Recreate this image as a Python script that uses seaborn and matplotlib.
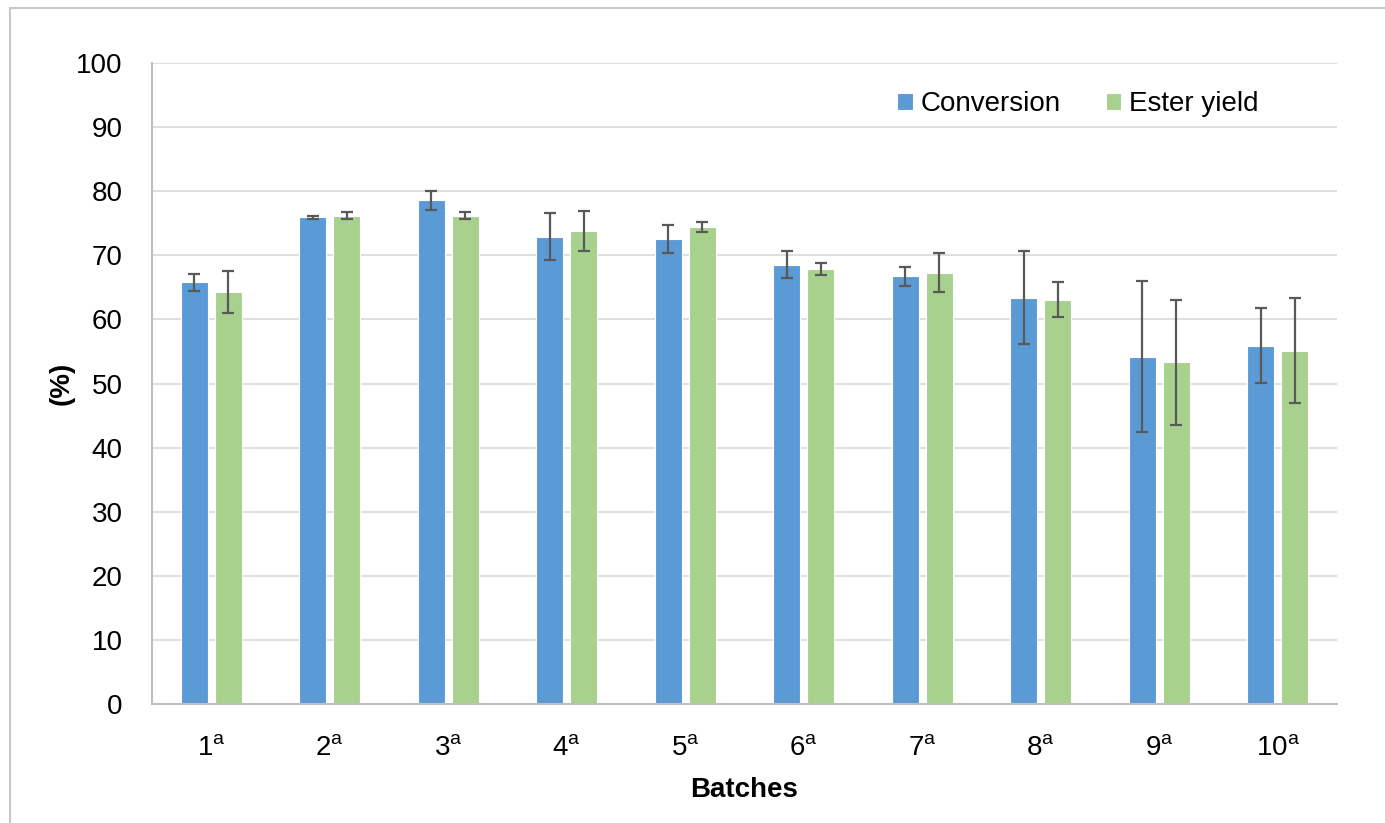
import numpy as np
import pandas as pd
import matplotlib
matplotlib.use('Agg')
import matplotlib.pyplot as plt
from matplotlib.lines import Line2D
import seaborn as sns

# ─── DATA ─────────────────────────────────────────────────────────────────────
batches = [str(i) for i in range(1, 11)]
conversion = [65.8, 75.9, 78.6, 72.9, 72.6, 68.5, 66.7, 63.4, 54.2, 55.9]
conversion_err = [1.35, 0.3, 1.5, 3.7, 2.2, 2.1, 1.5, 7.2, 11.8, 5.85]
ester_yield = [64.3, 76.2, 76.2, 73.8, 74.4, 67.9, 67.3, 63.1, 53.3, 55.1]
ester_err = [3.3, 0.6, 0.6, 3.1, 0.75, 0.9, 3.1, 2.7, 9.8, 8.2]
series = ['Conversion', 'Ester yield']

# ─── STYLE ────────────────────────────────────────────────────────────────────
BLUE = '#5B9BD5'
GREEN = '#A9D18E'
ERR = '#595959'
GRID = '#D9D9D9'

sns.set_theme(style='white')
plt.rcParams['font.family'] = ['Liberation Sans', 'DejaVu Sans']
plt.rcParams['mathtext.default'] = 'regular'
plt.rcParams['text.color'] = 'black'
plt.rcParams['axes.labelcolor'] = 'black'

df = pd.DataFrame({
    'batch': batches * 2,
    'value': conversion + ester_yield,
    'err': conversion_err + ester_err,
    'series': [series[0]] * len(batches) + [series[1]] * len(batches),
})

fig = plt.figure(figsize=(13.85, 8.23), dpi=100)
ax = fig.add_axes([152 / 1385, 1 - 704 / 823, (1337 - 152) / 1385, (704 - 63) / 823])

sns.barplot(data=df, x='batch', y='value', hue='series', order=batches,
            hue_order=series, palette=[BLUE, GREEN], errorbar=None,
            width=0.574, gap=0.2, edgecolor='white', linewidth=0.8,
            saturation=1, ax=ax, zorder=2)

# error bars at bar centres
for cont, s in zip(ax.containers, series):
    sub = df[df['series'] == s].set_index('batch').loc[batches]
    xs = [p.get_x() + p.get_width() / 2 for p in cont.patches]
    ax.errorbar(xs, sub['value'], yerr=sub['err'], fmt='none', ecolor=ERR,
                elinewidth=1.6, capsize=4.5, capthick=1.6, zorder=3)

ax.set_ylim(0, 100)
ax.set_xlim(-0.5, len(batches) - 0.5)
ax.set_yticks(np.arange(0, 101, 10))
ax.yaxis.grid(True, color=GRID, linewidth=1.2, zorder=0)
ax.set_axisbelow(True)

ax.set_xticks(range(len(batches)))
ax.set_xticklabels([rf'${b}^{{a}}$' for b in batches])
ax.tick_params(axis='y', length=0, pad=21, labelsize=20, labelcolor='black')
ax.tick_params(axis='x', length=0, pad=22, labelsize=20, labelcolor='black')

ax.set_ylabel('(%)', fontsize=20, fontweight='bold', labelpad=1)
ax.set_xlabel('Batches', fontsize=20, fontweight='bold', labelpad=12)

for side in ['top', 'right']:
    ax.spines[side].set_visible(False)
for side in ['left', 'bottom']:
    ax.spines[side].set_color('#BFBFBF')
    ax.spines[side].set_linewidth(1.5)

leg = ax.legend(loc='upper right', bbox_to_anchor=(0.955, 0.995), ncol=2,
                frameon=False, fontsize=20, handlelength=0.55,
                handleheight=0.55, handletextpad=0.3, columnspacing=1.6)

# outer chart-area border (left and top edges)
bx, by = 10 / 1385, 1 - 8 / 823
fig.add_artist(Line2D([bx, bx], [0, by], color='#C8C8C8', linewidth=1.5))
fig.add_artist(Line2D([bx, 1], [by, by], color='#C8C8C8', linewidth=1.5))

fig.savefig('out.png', dpi=100)
